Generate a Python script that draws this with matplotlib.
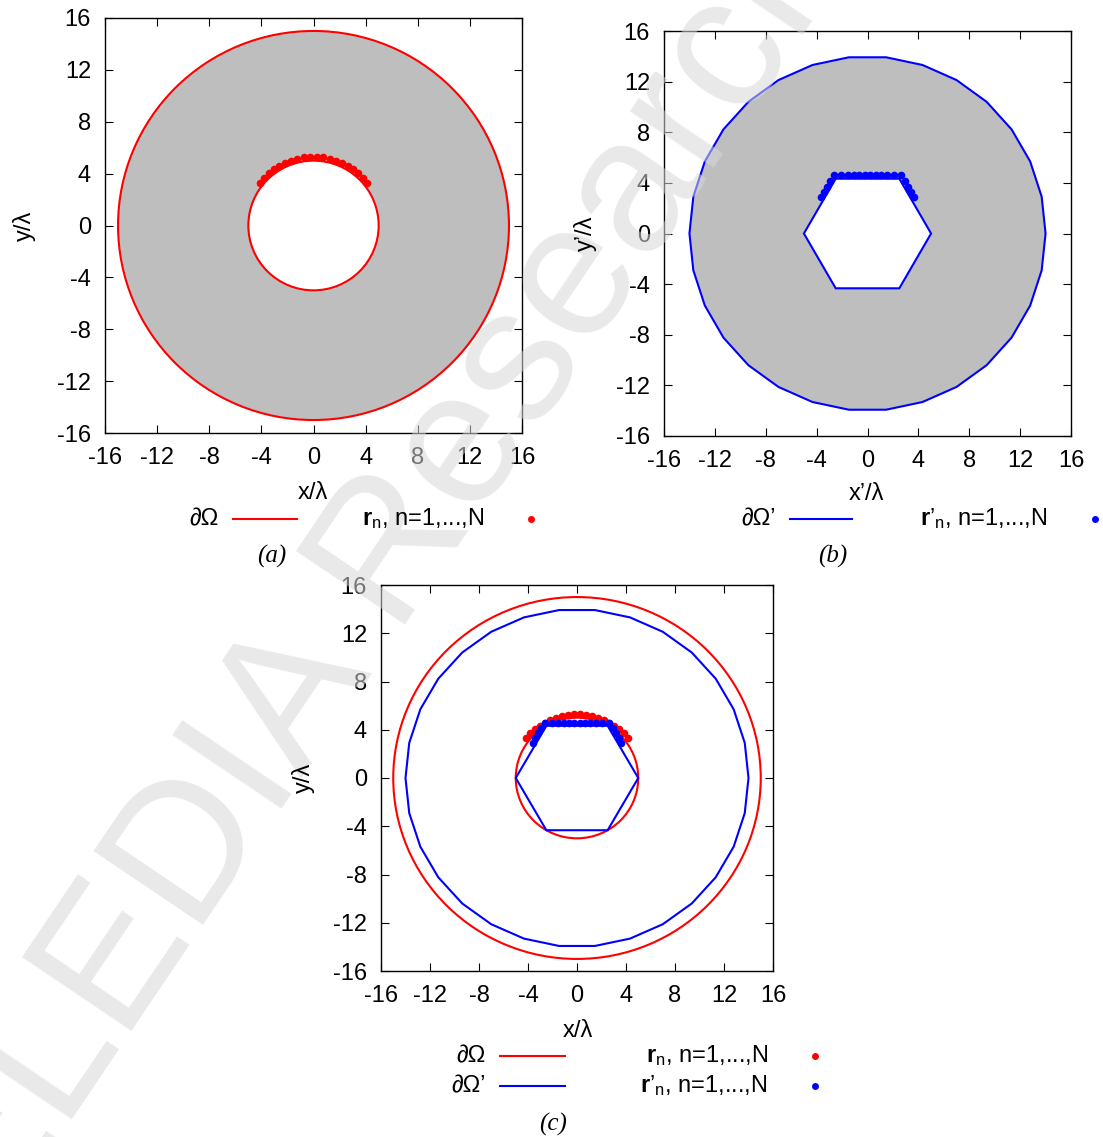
import numpy as np
import matplotlib
matplotlib.use("Agg")
import matplotlib.pyplot as plt
from matplotlib.patches import Circle, RegularPolygon
from matplotlib.lines import Line2D

plt.rcParams['font.family'] = ['Liberation Sans', 'DejaVu Sans']
plt.rcParams['mathtext.fontset'] = 'custom'
plt.rcParams['mathtext.rm'] = 'Liberation Sans'
plt.rcParams['mathtext.bf'] = 'Liberation Sans:bold'
plt.rcParams['mathtext.it'] = 'Liberation Sans:italic'
plt.rcParams['axes.unicode_minus'] = False

# ------- DATA ------------------
# original domain: annulus between two circles (panel a)
outer_radius = 15.0
inner_radius = 5.0
# transformed domain: 30-gon outside, hexagon inside (panel b)
outer_sides = 30
outer_poly_radius = 14.0
inner_sides = 6
inner_poly_radius = 5.0

# sample points r_n (red)
rn_x = [-4.14, -3.81, -3.44, -3.05, -2.63, -2.18, -1.72, -1.24, -0.75, -0.25,
        0.25, 0.75, 1.24, 1.72, 2.18, 2.63, 3.05, 3.44, 3.81, 4.14]
rn_y = [3.31, 3.69, 4.03, 4.34, 4.60, 4.83, 5.01, 5.15, 5.25, 5.29,
        5.29, 5.25, 5.15, 5.01, 4.83, 4.60, 4.34, 4.03, 3.69, 3.31]

# mapped points r'_n (blue)
rpn_x = [-3.63, -3.40, -3.17, -2.92, -2.63, -2.08, -1.57, -1.10, -0.65, -0.22,
         0.22, 0.65, 1.10, 1.57, 2.08, 2.63, 2.92, 3.17, 3.40, 3.63]
rpn_y = [2.91, 3.30, 3.71, 4.15, 4.60, 4.60, 4.60, 4.60, 4.60, 4.60,
         4.60, 4.60, 4.60, 4.60, 4.60, 4.60, 4.15, 3.71, 3.30, 2.91]

ticks = [-16, -12, -8, -4, 0, 4, 8, 12, 16]

W, H = 1103, 1137
GRAY = '#bebebe'
RED = '#ff0000'
BLUE = '#0000ff'
FS = 17


def fx(x):
    return x / W


def fy(y):
    return 1 - y / H


def setup_axes(ax):
    ax.set_xlim(-16, 16)
    ax.set_ylim(-16, 16)
    ax.set_xticks(ticks)
    ax.set_yticks(ticks)
    ax.tick_params(direction='in', top=True, right=True, length=6, width=0.8,
                   labelsize=FS)
    ax.tick_params(axis='x', pad=10)
    ax.tick_params(axis='y', pad=10)
    for s in ax.spines.values():
        s.set_linewidth(1.0)


def legend_line(x0, x1, y, color):
    fig.add_artist(Line2D([fx(x0), fx(x1)], [fy(y), fy(y)],
                          transform=fig.transFigure, color=color, lw=1.5))


def legend_dot(x, y, color):
    fig.add_artist(Line2D([fx(x)], [fy(y)], transform=fig.transFigure,
                          marker='o', ms=5, color=color, mec='none', lw=0))


fig = plt.figure(figsize=(W / 100, H / 100), dpi=100)

# ---- panel (a) ----
ax_a = fig.add_axes([fx(105), fy(433), (522 - 105) / W, (433 - 18) / H])
ax_a.add_patch(Circle((0, 0), outer_radius, fc=GRAY, ec=RED, lw=1.5))
ax_a.add_patch(Circle((0, 0), inner_radius, fc='white', ec=RED, lw=1.5))
ax_a.plot(rn_x, rn_y, 'o', color=RED, ms=5.5, mec='none')
setup_axes(ax_a)

# ---- panel (b) ----
ax_b = fig.add_axes([fx(664), fy(436), (1071 - 664) / W, (436 - 31) / H])
ax_b.add_patch(RegularPolygon((0, 0), outer_sides, radius=outer_poly_radius,
                              orientation=np.pi / outer_sides, fc=GRAY, ec=BLUE, lw=1.5))
ax_b.add_patch(RegularPolygon((0, 0), inner_sides, radius=inner_poly_radius,
                              orientation=np.pi / inner_sides, fc='white', ec=BLUE, lw=1.5))
ax_b.plot(rpn_x, rpn_y, 'o', color=BLUE, ms=5.5, mec='none')
setup_axes(ax_b)

# ---- panel (c) ----
ax_c = fig.add_axes([fx(381), fy(971), (773 - 381) / W, (971 - 585) / H])
ax_c.add_patch(Circle((0, 0), outer_radius, fc='none', ec=RED, lw=1.5))
ax_c.add_patch(Circle((0, 0), inner_radius, fc='none', ec=RED, lw=1.5))
ax_c.add_patch(RegularPolygon((0, 0), outer_sides, radius=outer_poly_radius,
                              orientation=np.pi / outer_sides, fc='none', ec=BLUE, lw=1.5))
ax_c.add_patch(RegularPolygon((0, 0), inner_sides, radius=inner_poly_radius,
                              orientation=np.pi / inner_sides, fc='none', ec=BLUE, lw=1.5))
ax_c.plot(rn_x, rn_y, 'o', color=RED, ms=5.5, mec='none')
ax_c.plot(rpn_x, rpn_y, 'o', color=BLUE, ms=5.5, mec='none')
setup_axes(ax_c)

# ---- axis labels (gnuplot style positions) ----
fig.text(fx(313), fy(493), 'x/λ', ha='center', va='center', fontsize=FS)
fig.text(fx(24), fy(226), 'y/λ', ha='center', va='center', fontsize=FS, rotation=90)
fig.text(fx(866), fy(494), 'x’/λ', ha='center', va='center', fontsize=FS)
fig.text(fx(585), fy(233), 'y’/λ', ha='center', va='center', fontsize=FS, rotation=90)
fig.text(fx(578), fy(1031), 'x/λ', ha='center', va='center', fontsize=FS)
fig.text(fx(303), fy(778), 'y/λ', ha='center', va='center', fontsize=FS, rotation=90)

# ---- legends ----
rn_label = r'$\mathbf{r}_\mathrm{n}$, n=1,...,N'
rpn_label = r'$\mathbf{r}\mathrm{’}_\mathrm{n}$, n=1,...,N'

fig.text(fx(219), fy(519), '∂Ω', ha='right', va='center', fontsize=FS)
legend_line(233, 297, 519, RED)
fig.text(fx(484), fy(519), rn_label, ha='right', va='center', fontsize=FS)
legend_dot(531, 519, RED)

fig.text(fx(776), fy(519), '∂Ω’', ha='right', va='center', fontsize=FS)
legend_line(790, 852, 519, BLUE)
fig.text(fx(1048), fy(519), rpn_label, ha='right', va='center', fontsize=FS)
legend_dot(1095, 519, BLUE)

fig.text(fx(486), fy(1056), '∂Ω', ha='right', va='center', fontsize=FS)
legend_line(500, 565, 1056, RED)
fig.text(fx(768), fy(1056), rn_label, ha='right', va='center', fontsize=FS)
legend_dot(815, 1056, RED)

fig.text(fx(486), fy(1086), '∂Ω’', ha='right', va='center', fontsize=FS)
legend_line(500, 565, 1086, BLUE)
fig.text(fx(768), fy(1086), rpn_label, ha='right', va='center', fontsize=FS)
legend_dot(815, 1086, BLUE)

# ---- captions ----
cap = dict(ha='center', va='center', fontsize=FS + 1, family='Liberation Serif',
           style='italic', zorder=5)
fig.text(fx(272), fy(556), '(a)', **cap)
fig.text(fx(833), fy(556), '(b)', **cap)
fig.text(fx(553), fy(1124), '(c)', **cap)

# ---- watermark ----
fig.text(fx(383), fy(570), 'ELEDIA Research', ha='center', va='center',
         fontsize=138, color='#d8d8d8', alpha=0.55, rotation=56,
         zorder=2, family='Liberation Sans')

fig.savefig('out.png', dpi=100)
